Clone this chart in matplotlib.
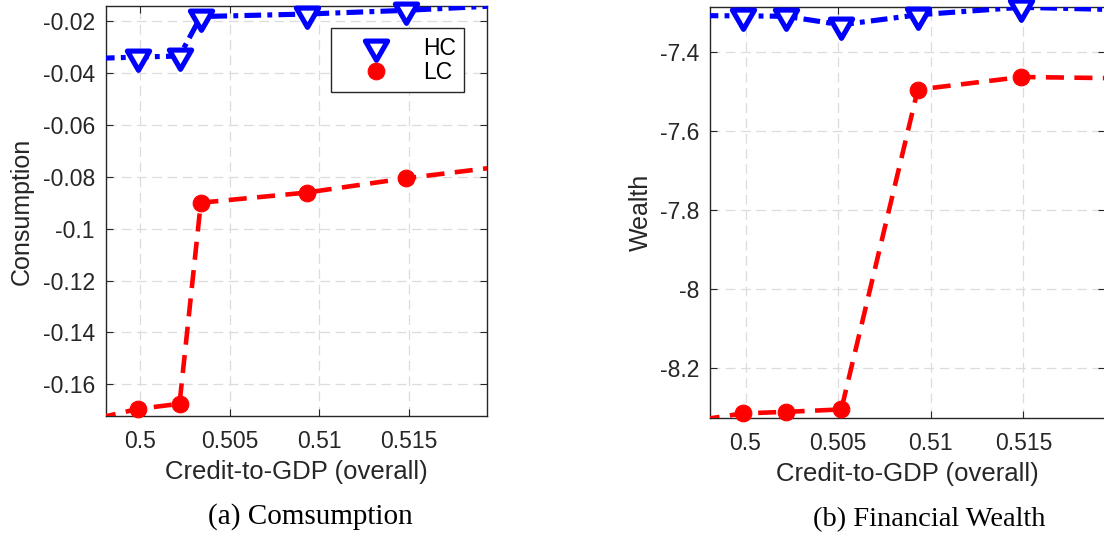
import numpy as np
import matplotlib
matplotlib.use("Agg")
import matplotlib.pyplot as plt
from matplotlib.path import Path
from matplotlib.markers import MarkerStyle

# ---- data -------------------------------------------------------------
# Credit-to-GDP (overall) for each experiment; the first and last entries
# lie just outside the displayed range so the curves run to the frame.
credit_cons = [0.49763, 0.49985, 0.50219, 0.50338, 0.50929, 0.51483, 0.52050]
hc_cons = [-0.03437, -0.03387, -0.03349, -0.01827, -0.01730, -0.01588, -0.01394]
lc_cons = [-0.17300, -0.16950, -0.16750, -0.09000, -0.08610, -0.08060, -0.07580]

credit_wealth = [0.49763, 0.49985, 0.50220, 0.50517, 0.50930, 0.51489, 0.52050]
hc_wealth = [-7.3079, -7.3084, -7.3096, -7.3311, -7.3058, -7.2868, -7.2932]
lc_wealth = [-8.3311, -8.3154, -8.3114, -8.3053, -7.4952, -7.4633, -7.4666]

series_names = ["HC", "LC"]

x_lim = [0.49808, 0.51938]
x_ticks = [0.5, 0.505, 0.51, 0.515]
x_ticklabels = ["0.5", "0.505", "0.51", "0.515"]

cons_lim = [-0.1722, -0.0142]
cons_ticks = [-0.16, -0.14, -0.12, -0.10, -0.08, -0.06, -0.04, -0.02]
cons_ticklabels = ["-0.16", "-0.14", "-0.12", "-0.1", "-0.08", "-0.06", "-0.04", "-0.02"]

wealth_lim = [-8.327, -7.286]
wealth_ticks = [-8.2, -8.0, -7.8, -7.6, -7.4]
wealth_ticklabels = ["-8.2", "-8", "-7.8", "-7.6", "-7.4"]

xlabel = "Credit-to-GDP (overall)"
captions = ["(a) Comsumption", "(b) Financial Wealth"]
ylabels = ["Consumption", "Wealth"]

# ---- style ------------------------------------------------------------
plt.rcParams["font.family"] = ["Liberation Sans", "DejaVu Sans"]
plt.rcParams["lines.scale_dashes"] = False
TXT = "#262626"

# down triangle whose centroid sits on the data point
tri_path = Path([(-0.577, 0.333), (0.577, 0.333), (0.0, -0.667), (-0.577, 0.333)],
                [Path.MOVETO, Path.LINETO, Path.LINETO, Path.CLOSEPOLY])
tri_marker = MarkerStyle(tri_path, joinstyle="miter")

fig = plt.figure(figsize=(11.04, 5.4), dpi=100)
W, H = 1104.0, 540.0


def px_axes(left, top, right, bottom):
    return fig.add_axes([left / W, 1 - bottom / H, (right - left) / W, (bottom - top) / H])


def draw_panel(ax, x, hc, lc, ylim, yticks, yticklabels, ylabel, ylabel_x, legend):
    x = np.asarray(x)
    ax.set_xlim(x_lim)
    ax.set_ylim(ylim)
    # curves
    ax.plot(x, hc, color="blue", lw=3.7, dashes=(12, 4.5, 3.5, 4.5), zorder=3,
            dash_capstyle="butt")
    ax.plot(x, lc, color="red", lw=3.3, dashes=(13, 7.5), zorder=3,
            dash_capstyle="butt")
    # markers, drawn unclipped for points inside the range
    inside = (x >= x_lim[0]) & (x <= x_lim[1])
    h_hc, = ax.plot(x[inside], np.asarray(hc)[inside], ls="none", marker=tri_marker,
                    ms=18.5, mew=3.7, mfc="white", mec="blue", zorder=4,
                    clip_on=False, label=series_names[0])
    h_lc, = ax.plot(x[inside], np.asarray(lc)[inside], ls="none", marker="o",
                    ms=12, mew=0.8, mfc="red", mec="red", zorder=4,
                    clip_on=False, label=series_names[1])

    ax.set_xticks(x_ticks)
    ax.set_xticklabels(x_ticklabels)
    ax.set_yticks(yticks)
    ax.set_yticklabels(yticklabels)
    ax.tick_params(direction="in", top=True, right=True, length=5, width=0.8,
                   colors=TXT, labelsize=16.5)
    ax.tick_params(axis="y", pad=8)
    ax.tick_params(axis="x", pad=10)
    for s in ax.spines.values():
        s.set_color(TXT)
        s.set_linewidth(1.0)
    ax.grid(True, color="#dcdcdc", lw=0.9, dashes=(7, 4))
    ax.set_axisbelow(True)

    ax.set_xlabel(xlabel, fontsize=18.5, color=TXT, labelpad=5)
    ax.set_ylabel(ylabel, fontsize=18, color=TXT)
    ax.yaxis.set_label_coords(ylabel_x, 0.5)

    if legend:
        leg = ax.legend(handles=[h_hc, h_lc], loc="upper left",
                        bbox_to_anchor=(0.590, 0.9456), borderaxespad=0,
                        fontsize=16.5, handlelength=3.2, handletextpad=0.45,
                        borderpad=0.36, labelspacing=0.05, fancybox=False,
                        framealpha=1, edgecolor="#262626", numpoints=1)
        leg.get_frame().set_linewidth(1.0)
        for t in leg.get_texts():
            t.set_color("black")


ax1 = px_axes(106, 6, 487, 416)
draw_panel(ax1, credit_cons, hc_cons, lc_cons, cons_lim, cons_ticks,
           cons_ticklabels, ylabels[0], -0.19, True)

ax2 = px_axes(710, 7, 1104.5, 418)
draw_panel(ax2, credit_wealth, hc_wealth, lc_wealth, wealth_lim, wealth_ticks,
           wealth_ticklabels, ylabels[1], -0.145, False)

fig.text(310 / W, 1 - 517 / H, captions[0], ha="center", va="center",
         fontsize=21, family="Liberation Serif", color="black")
fig.text(929.5 / W, 1 - 520 / H, captions[1], ha="center", va="center",
         fontsize=20.5, family="Liberation Serif", color="black")

fig.savefig("out.png", dpi=100)
